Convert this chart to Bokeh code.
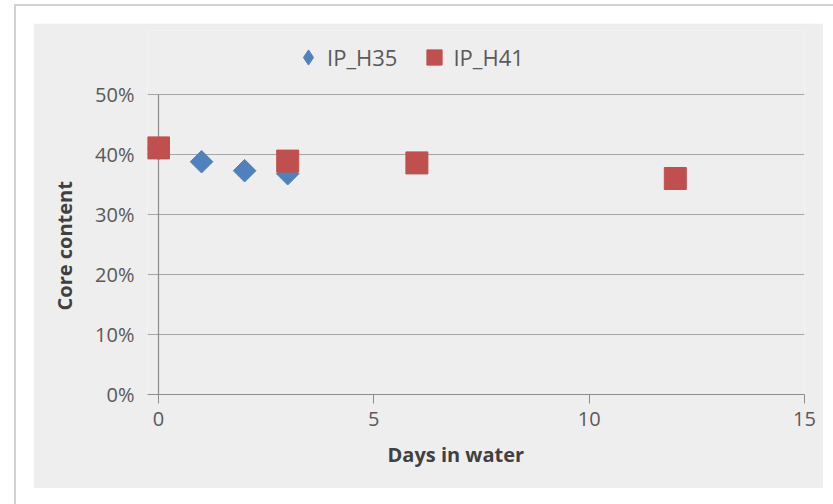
import math
from bokeh.plotting import figure
from bokeh.models import (Range1d, FixedTicker, NumeralTickFormatter, Legend,
                          LegendItem, Title)
from bokeh.embed import file_html
from bokeh.resources import INLINE

# ---- data ----
days_h35 = [0, 1, 2, 3]
core_h35 = [0.410, 0.388, 0.373, 0.368]
days_h41 = [0, 3, 6, 12]
core_h41 = [0.411, 0.389, 0.386, 0.360]
series_names = ["IP_H35", "IP_H41"]
x_ticks = [0, 5, 10, 15]
y_ticks = [0, 0.1, 0.2, 0.3, 0.4, 0.5]
x_title = "Days in water"
y_title = "Core content"

BLUE = "#4f81bd"
RED = "#c0504d"
FONT = "Open Sans"

# figure = the grey chart box (33..823 x 23..488 on the page)
# plot frame: page x 147..804, page y 30..394 (upper part holds the legend)
p = figure(width=790, height=465, output_backend="svg", toolbar_location=None,
           x_range=Range1d(-0.2554, 15), y_range=Range1d(0, 0.5 + 64 / 600),
           min_border_left=114, min_border_right=19, min_border_top=7, min_border_bottom=94,
           background_fill_color="#eeeeee", border_fill_color="#eeeeee",
           outline_line_color=None)
p.margin = (23, 10, 16, 33)
p.styles = {"outline": "2px solid #d2d2d2", "outline-offset": "17px"}

# axes
p.xaxis.ticker = FixedTicker(ticks=x_ticks)
p.yaxis.ticker = FixedTicker(ticks=y_ticks)
p.yaxis.formatter = NumeralTickFormatter(format="0%")
p.ygrid.ticker = FixedTicker(ticks=y_ticks)
p.xgrid.grid_line_color = None
p.ygrid.grid_line_color = "#a6a6a6"
p.ygrid.grid_line_width = 1.2

for ax in (p.xaxis, p.yaxis):
    ax.major_label_text_font = FONT
    ax.major_label_text_font_size = "20px"
    ax.major_label_text_color = "#595959"
    ax.minor_tick_line_color = None

p.xaxis.axis_line_color = "#8c8c8c"
p.xaxis.major_tick_line_color = "#8c8c8c"
p.xaxis.major_tick_out = 9
p.xaxis.major_tick_in = 0
p.xaxis.major_label_standoff = 8

p.yaxis.axis_line_color = None
p.yaxis.major_tick_line_color = None
p.yaxis.major_tick_out = 0
p.yaxis.major_tick_in = 0
p.yaxis.major_label_standoff = 13

# axis titles as Titles so that they can be shifted like the reference
p.add_layout(Title(text=x_title, align="left", offset=240, standoff=20,
                   text_font=FONT, text_font_size="20px", text_font_style="bold",
                   text_color="#404040"), "below")
p.add_layout(Title(text=y_title, align="left", offset=84, standoff=29,
                   text_font=FONT, text_font_size="20px", text_font_style="bold",
                   text_color="#404040"), "left")

# vertical axis line at x = 0 between the lowest and highest tick
p.segment(x0=[x_ticks[0]], y0=[y_ticks[0]], x1=[x_ticks[0]], y1=[y_ticks[-1]],
          line_color="#8c8c8c", line_width=1.2)

# data
p.scatter(days_h35, core_h35, marker="square", angle=math.pi / 4, size=16,
          fill_color=BLUE, line_color=BLUE)
p.scatter(days_h41, core_h41, marker="square", size=22,
          fill_color=RED, line_color=RED)

# legend-only renderers (a single NaN point, never drawn in the plot)
nan = float("nan")
lg35 = p.scatter([nan], [nan], marker="diamond", fill_color=BLUE, line_color=BLUE)
lg41 = p.scatter([nan], [nan], marker="square", fill_color=RED, line_color=RED)
legend = Legend(items=[LegendItem(label=series_names[0], renderers=[lg35]),
                       LegendItem(label=series_names[1], renderers=[lg41])],
                orientation="horizontal", location=(142, 318),
                glyph_width=38, glyph_height=38, label_standoff=0, spacing=18,
                padding=0, margin=0, border_line_color=None, background_fill_alpha=0,
                label_text_font=FONT, label_text_font_size="22px",
                label_text_color="#595959")
p.add_layout(legend, "center")

open("out.html", "w").write(file_html(p, INLINE))
